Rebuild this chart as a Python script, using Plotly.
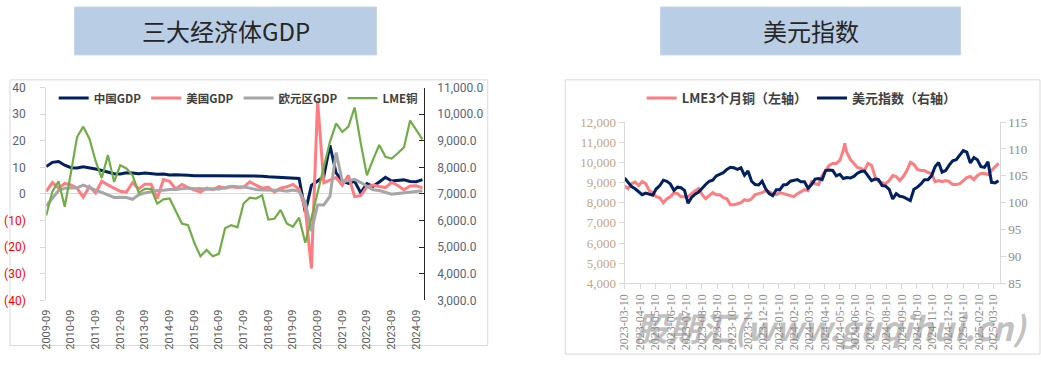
import pandas as pd
import plotly.graph_objects as go

# ---------------- Left chart: 三大经济体GDP (quarterly, 2009-09 .. 2024-12) ----------------
quarters = [f"{y}-{m:02d}" for y in range(2009, 2025) for m in (3, 6, 9, 12)][2:]
year_ticks = [q for q in quarters if q.endswith("-09")]

china_gdp = [10.3, 11.9, 12.2, 10.8, 9.9, 9.8, 10.2, 9.9, 9.4, 8.8,
             8.1, 7.6, 7.5, 8.0, 7.9, 7.6, 7.9, 7.7, 7.4, 7.5,
             7.1, 7.2, 7.0, 7.0, 6.9, 6.8, 6.9, 6.9, 6.9, 6.9,
             6.9, 6.9, 6.9, 6.8, 6.8, 6.7, 6.5, 6.4, 6.3, 6.2,
             6.0, 5.8, -6.8, 3.2, 4.9, 6.5, 18.3, 7.9, 4.9, 4.0,
             4.8, 0.4, 3.9, 2.9, 4.5, 6.3, 4.9, 5.2, 5.3, 4.7,
             4.6, 5.4]
us_gdp = [1.0, 4.3, 2.2, 4.0, 3.4, 2.2, -1.2, 2.8, 0.4, 4.8,
          3.4, 2.2, 1.0, 0.7, 4.3, 1.9, 3.7, 3.7, -1.7, 5.4,
          4.8, 1.9, 3.6, 2.4, 1.6, 0.7, 2.2, 1.6, 2.8, 2.2,
          2.7, 2.4, 2.6, 4.6, 3.3, 2.2, 2.5, 0.8, 2.2, 2.7,
          3.6, 1.8, -5.5, -28.0, 35.0, 4.2, 5.2, 6.2, 3.3, 7.0,
          -1.0, -0.6, 2.7, 3.4, 2.8, 2.4, 4.4, 3.2, 1.6, 3.0,
          3.1, 2.3]
euro_gdp = [-4.5, -1.5, 1.3, 2.2, 2.3, 2.3, 3.3, 2.2, 1.4, 0.6,
            -0.4, -1.3, -1.2, -1.3, -2.0, -0.3, 0.4, 0.8, 1.3, 1.4,
            1.7, 1.7, 2.0, 2.2, 2.0, 2.1, 1.8, 2.0, 1.9, 2.3,
            2.9, 2.7, 2.6, 2.2, 1.7, 1.5, 1.5, 1.5, 1.4, 1.0,
            1.5, 1.0, -3.1, -14.0, -4.1, -4.1, -0.9, 15.6, 4.8, 5.0,
            5.5, 4.3, 2.8, 1.6, 1.3, 0.6, -0.1, 0.2, 0.5, 0.7,
            1.0, 1.2]
lme_copper_q = [6190, 7100, 7480, 6520, 7800, 9140, 9530, 9080, 8240, 7600,
                8460, 7460, 8080, 7960, 7700, 7040, 7190, 7190, 6640, 6800,
                6830, 6370, 5890, 5830, 5170, 4660, 4900, 4660, 4750, 5710,
                5830, 5750, 6640, 6860, 6830, 6950, 6040, 6070, 6400, 5890,
                5770, 6110, 5170, 6100, 7050, 8000, 8960, 9650, 9330, 9530,
                10250, 8900, 7700, 8300, 8840, 8400, 8330, 8530, 8750, 9760,
                9400, 9050]

gdp_ticks = [40, 30, 20, 10, 0, -10, -20, -30, -40]
gdp_ticktext = ["40", "30", "20", "10", "0",
                '<span style="color:#ff0000">(10)</span>',
                '<span style="color:#ff0000">(20)</span>',
                '<span style="color:#ff0000">(30)</span>',
                '<span style="color:#ff0000">(40)</span>']

# ---------------- Right chart: 美元指数 (weekly readings, 2023-03-10 .. 2025-03-21) ----------------
week_dates = pd.date_range("2023-03-10", "2025-03-21", freq="7D")
copper_3m = [8830, 8700, 8950, 9030,
             8850, 9050, 8950, 8600,
             8500, 8300, 8250, 8000,
             8200, 8300, 8500, 8450, 8300,
             8300, 8300, 8450, 8600,
             8700, 8400, 8200, 8350,
             8500, 8400, 8400, 8250, 8200,
             7900, 7900, 7950, 8000,
             8150, 8100, 8200, 8400,
             8450, 8500, 8600, 8550, 8450,
             8400, 8500, 8450, 8400,
             8350, 8300, 8450, 8550,
             8650, 8600, 9050, 8950, 8900,
             9350, 9600, 9850, 9950,
             9950, 10100, 10600, 10500, 10150,
             9950, 9750, 9700, 9600,
             9950, 9850, 9300, 9050,
             9000, 8950, 9100, 9350, 9300,
             9100, 9300, 9600, 10000,
             9900, 9650, 9600, 9600,
             9500, 9450, 9050, 9100, 9050,
             9100, 9050, 8900, 8900,
             8950, 9100, 9250, 9300, 9150,
             9350, 9450, 9450, 9400,
             9600, 9800, 9950]
copper_peak_dates = ["2024-05-20", "2024-05-21"]
copper_peak_vals = [10950, 10750]

dxy = [104.6, 103.7, 103.0, 102.6,
       102.0, 101.5, 101.8, 101.6,
       101.4, 102.6, 103.2, 104.2,
       104.0, 103.5, 102.3, 102.9, 102.8,
       102.3, 99.9, 101.0, 101.6,
       102.0, 102.8, 103.4, 104.0,
       104.2, 105.0, 105.3, 105.6, 106.2,
       106.6, 106.5, 106.2, 106.5,
       105.1, 105.9, 104.0, 103.4,
       103.3, 104.0, 102.6, 101.7, 101.3,
       102.4, 102.4, 103.3, 103.4,
       104.0, 104.1, 104.3, 103.9,
       103.9, 102.7, 103.4, 104.4, 104.5,
       104.3, 106.0, 106.1, 106.0,
       105.0, 105.3, 104.5, 104.7, 104.6,
       104.9, 105.5, 105.8, 105.9,
       104.9, 104.1, 104.4, 104.3,
       103.2, 103.1, 102.5, 100.7, 101.7,
       101.2, 101.1, 100.7, 100.4,
       102.5, 102.9, 103.5, 104.3,
       104.3, 105.0, 106.7, 107.5, 105.7,
       106.0, 107.0, 107.8, 108.0,
       108.9, 109.7, 109.4, 107.4, 108.4,
       108.0, 106.7, 106.6, 107.6,
       103.8, 103.7, 104.1]
month_ticks = pd.date_range("2023-03-10", periods=25, freq=pd.DateOffset(months=1))

copper_series = pd.concat([
    pd.Series(copper_3m, index=week_dates),
    pd.Series(copper_peak_vals, index=pd.to_datetime(copper_peak_dates)),
]).sort_index()

# ---------------- Figure ----------------
W, H = 1041, 365
px = lambda v: v / W
py = lambda v: 1 - v / H

NAVY = "#002060"
PINK = "#ff7c80"
GRAY = "#a6a6a6"
GREEN = "#70ad47"
CJK = "Noto Sans CJK SC"
SERIF = "Liberation Serif"

fig = go.Figure()

fig.add_trace(go.Scatter(x=quarters, y=china_gdp, name="中国GDP", mode="lines",
                         line=dict(color=NAVY, width=3), xaxis="x", yaxis="y", legend="legend"))
fig.add_trace(go.Scatter(x=quarters, y=us_gdp, name="美国GDP", mode="lines",
                         line=dict(color=PINK, width=3), xaxis="x", yaxis="y", legend="legend"))
fig.add_trace(go.Scatter(x=quarters, y=euro_gdp, name="欧元区GDP", mode="lines",
                         line=dict(color=GRAY, width=3), xaxis="x", yaxis="y", legend="legend"))
fig.add_trace(go.Scatter(x=quarters, y=lme_copper_q, name="LME铜", mode="lines",
                         line=dict(color=GREEN, width=2.2), xaxis="x", yaxis="y2", legend="legend"))

fig.add_trace(go.Scatter(x=copper_series.index, y=copper_series.values, name="LME3个月铜（左轴）",
                         mode="lines", line=dict(color=PINK, width=3),
                         xaxis="x2", yaxis="y3", legend="legend2"))
fig.add_trace(go.Scatter(x=week_dates, y=dxy, name="美元指数（右轴）", mode="lines",
                         line=dict(color=NAVY, width=3), xaxis="x2", yaxis="y4", legend="legend2"))

tickfont_left = dict(family="Roboto", size=12, color="#5a6478")

fig.update_layout(
    width=W, height=H, autosize=False,
    margin=dict(l=0, r=0, t=0, b=0),
    paper_bgcolor="white", plot_bgcolor="rgba(0,0,0,0)",
    showlegend=True,
    xaxis=dict(domain=[px(39.5), px(419.5)], type="category", range=[0, 61.2],
               tickmode="array", tickvals=year_ticks, ticktext=year_ticks,
               tickangle=-90, ticks="", showline=False, showgrid=False, zeroline=False,
               tickfont=dict(family="Roboto", size=11, color="#595959"),
               ticklabelstandoff=6, anchor="y"),
    yaxis=dict(domain=[py(306), py(84)], range=[-40, 40],
               tickmode="array", tickvals=gdp_ticks, ticktext=gdp_ticktext,
               showline=True, linecolor="#d9d9d9", linewidth=1,
               ticks="outside", ticklen=5, tickcolor="#d9d9d9",
               showgrid=False, zeroline=True, zerolinecolor="#d9d9d9", zerolinewidth=1,
               tickfont=tickfont_left, ticklabelstandoff=12, anchor="x"),
    yaxis2=dict(overlaying="y", side="right", range=[3000, 11000], dtick=1000,
                tickformat=",.1f", showline=True, linecolor="#262626", linewidth=1.3,
                ticks="inside", ticklen=5, tickcolor="#262626",
                showgrid=False, zeroline=False, tickfont=tickfont_left,
                ticklabelstandoff=10, anchor="x"),
    xaxis2=dict(domain=[px(621.7), px(999.3)], type="date",
                range=["2023-03-10", "2025-03-23"],
                tickmode="array", tickvals=list(month_ticks),
                ticktext=[d.strftime("%Y-%m-%d") for d in month_ticks],
                tickangle=-90, ticks="outside", ticklen=5, tickcolor="#d9d9d9",
                showline=True, linecolor="#d9d9d9", showgrid=False, zeroline=False,
                tickfont=dict(family=SERIF, size=12, color="#8c8c8c"), anchor="y3"),
    yaxis3=dict(domain=[py(288.3), py(120)], range=[4000, 12000], dtick=1000,
                tickformat=",", showline=True, linecolor="#d9d9d9",
                ticks="outside", ticklen=5, tickcolor="#d9d9d9",
                showgrid=False, zeroline=False,
                tickfont=dict(family=SERIF, size=13, color="#c4a584"), anchor="x2"),
    yaxis4=dict(overlaying="y3", side="right", range=[85, 115], dtick=5,
                showline=True, linecolor="#d9d9d9",
                ticks="outside", ticklen=5, tickcolor="#d9d9d9",
                showgrid=False, zeroline=False,
                tickfont=dict(family=SERIF, size=13, color="#8c8c8c"), anchor="x2"),
    legend=dict(orientation="h", x=px(47), y=py(95), xanchor="left", yanchor="middle",
                bgcolor="rgba(0,0,0,0)",
                font=dict(family=CJK, size=11.5, color="#404040", weight="bold")),
    legend2=dict(orientation="h", x=px(639), y=py(95), xanchor="left", yanchor="middle",
                 bgcolor="rgba(0,0,0,0)",
                 font=dict(family=CJK, size=13, color="#404040", weight="bold")),
)

shapes = [
    # chart frames
    dict(type="rect", xref="paper", yref="paper", x0=px(3), x1=px(484), y0=py(353), y1=py(76),
         line=dict(color="#d9d9d9", width=1), fillcolor="rgba(0,0,0,0)", layer="below"),
    dict(type="rect", xref="paper", yref="paper", x0=px(562), x1=px(1040), y0=py(362), y1=py(76),
         line=dict(color="#d9d9d9", width=1), fillcolor="rgba(0,0,0,0)", layer="below"),
    # title boxes
    dict(type="rect", xref="paper", yref="paper", x0=px(68), x1=px(372), y0=py(50), y1=py(0),
         line=dict(color="#c6d5ea", width=1), fillcolor="#b9cde5", layer="below"),
    dict(type="rect", xref="paper", yref="paper", x0=px(658), x1=px(960), y0=py(50), y1=py(0),
         line=dict(color="#c6d5ea", width=1), fillcolor="#b9cde5", layer="below"),
]
fig.update_layout(shapes=shapes)

fig.add_annotation(text="三大经济体GDP", xref="paper", yref="paper", x=px(220), y=py(25),
                   xanchor="center", yanchor="middle",
                   showarrow=False, font=dict(family=CJK, size=24, color="#262626"))
fig.add_annotation(text="美元指数", xref="paper", yref="paper", x=px(809), y=py(25),
                   xanchor="center", yanchor="middle",
                   showarrow=False, font=dict(family=CJK, size=24, color="#262626"))
fig.add_annotation(text="<b><i>股期汇(www.guqihui.cn)</i></b>", xref="paper", yref="paper",
                   x=px(830), y=py(334), xanchor="center", yanchor="middle", showarrow=False,
                   font=dict(family=CJK, size=33, color="rgba(140,140,140,0.55)"))

fig.write_html("out.html", config={"displayModeBar": False},
               post_script="document.body.style.margin='0px';")
